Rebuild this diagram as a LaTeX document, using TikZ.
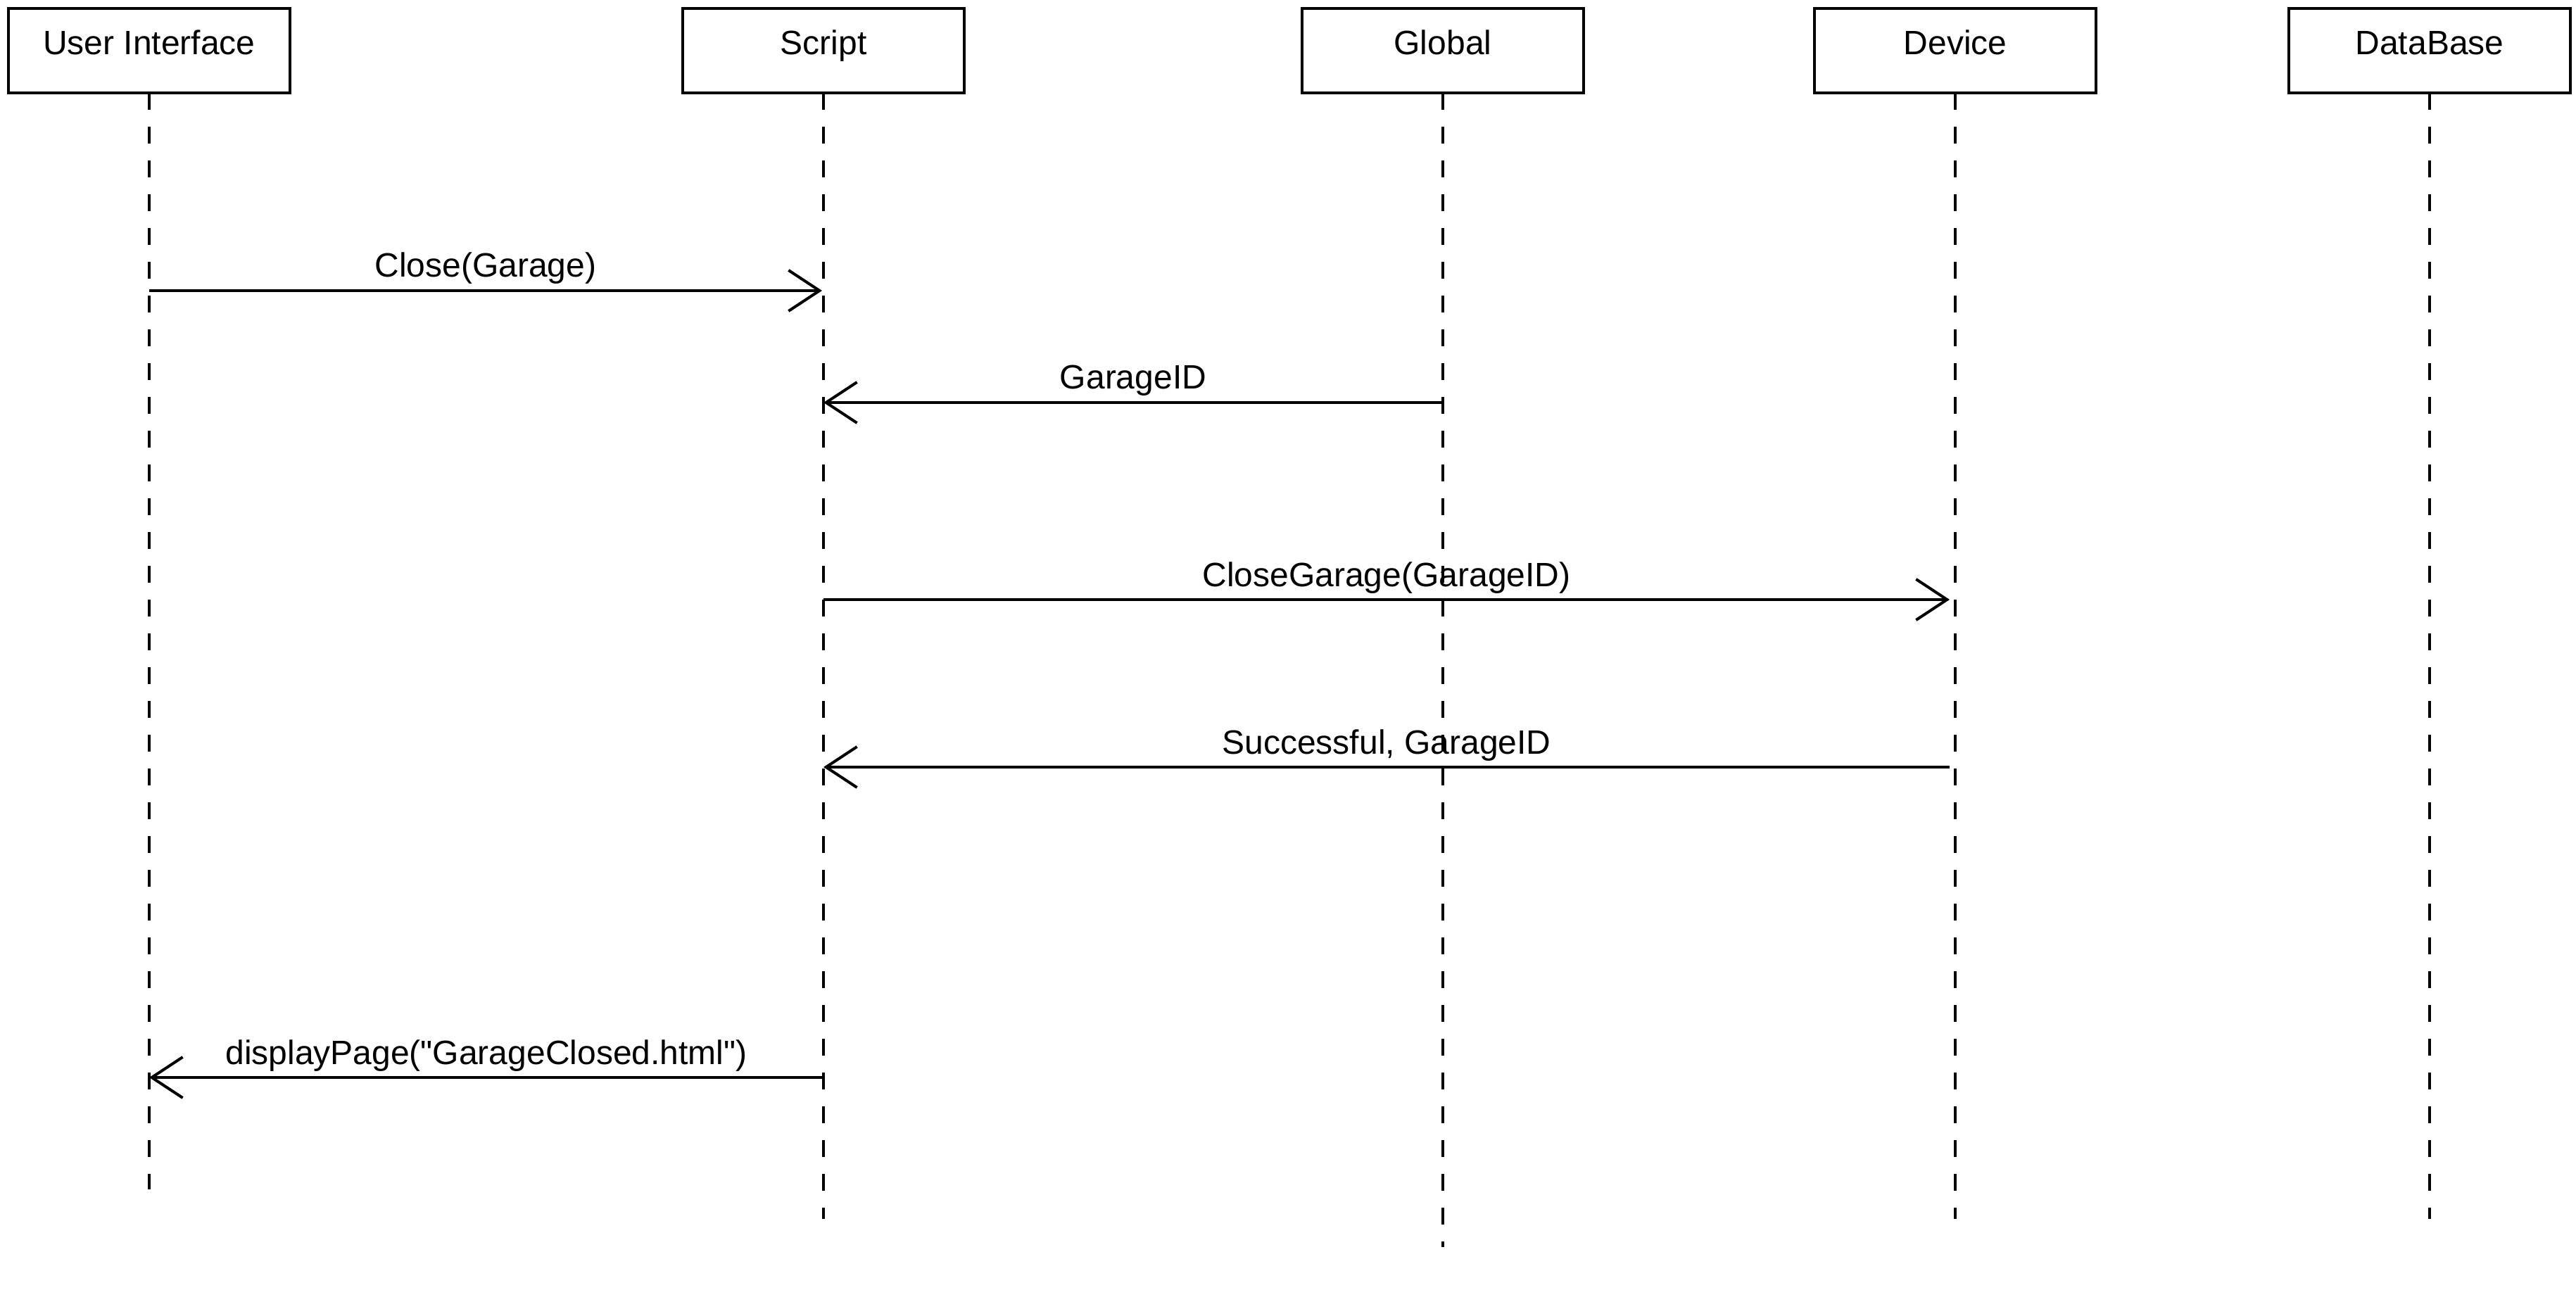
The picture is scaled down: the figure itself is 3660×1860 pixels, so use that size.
\documentclass[tikz,border=0pt]{standalone}
\usepackage{fontspec}
\setmainfont{Liberation Sans}[Ligatures=TeXOff]
\usetikzlibrary{arrows.meta}
\begin{document}
\begin{tikzpicture}[x=0.25pt,y=-0.25pt,
  line width=1pt,
  every node/.style={font=\fontsize{12}{14}\selectfont},
  actor/.style={draw, line width=1pt, outer sep=0pt, inner sep=0pt,
                minimum width=100pt, minimum height=30pt},
  title/.style={anchor=base, inner sep=0pt},
  lifeline/.style={line width=1pt, dash pattern=on 6pt off 6pt},
  msg/.style={line width=1pt, -{Straight Barb[length=11pt,width=14.5pt]}},
  msglabel/.style={anchor=base, inner sep=0pt, yshift=4.75pt}
]
\useasboundingbox (0,0) rectangle (3660,1860);

% participants
\node[actor] (ui)  at (212,72)  {};
\node[actor] (scr) at (1170,72) {};
\node[actor] (glo) at (2050,72) {};
\node[actor] (dev) at (2778,72) {};
\node[actor] (db)  at (3452,72) {};

\node[title] (uit)  at (212,78)  {User Interface};
\node[title] (scrt) at (1170,78) {Script};
\node[title] (glot) at (2050,78) {Global};
\node[title] (devt) at (2778,78) {Device};
\node[title] (dbt)  at (3452,78) {DataBase};

% lifeline ends
\coordinate (uiend)  at (212,1690);
\coordinate (scrend) at (1170,1732);
\coordinate (gloend) at (2050,1772);
\coordinate (devend) at (2778,1732);
\coordinate (dbend)  at (3452,1732);

\draw[lifeline] (ui)  -- (uiend);
\draw[lifeline] (scr) -- (scrend);
\draw[lifeline] (glo) -- (gloend);
\draw[lifeline] (dev) -- (devend);
\draw[lifeline] (db)  -- (dbend);

% message anchors on the lifelines
\coordinate (m1a) at (212,413);  \coordinate (m1b) at (1168,413);
\coordinate (m2a) at (2050,572); \coordinate (m2b) at (1170,572);
\coordinate (m3a) at (1170,852); \coordinate (m3b) at (2770,852);
\coordinate (m4a) at (2770,1090);\coordinate (m4b) at (1170,1090);
\coordinate (m5a) at (1170,1531);\coordinate (m5b) at (212,1531);

% messages
\draw[msg] (m1a) -- node[msglabel] (l1) {Close(Garage)} (m1b);
\draw[msg] (m2a) -- node[msglabel] (l2) {GarageID} (m2b);
\draw[msg] (m3a) -- node[msglabel] (l3) {CloseGarage(GarageID)} (m3b);
\draw[msg] (m4a) -- node[msglabel] (l4) {Successful, GarageID} (m4b);
\draw[msg] (m5a) -- node[msglabel] (l5) {displayPage("GarageClosed.html")} (m5b);
\end{tikzpicture}
\end{document}
